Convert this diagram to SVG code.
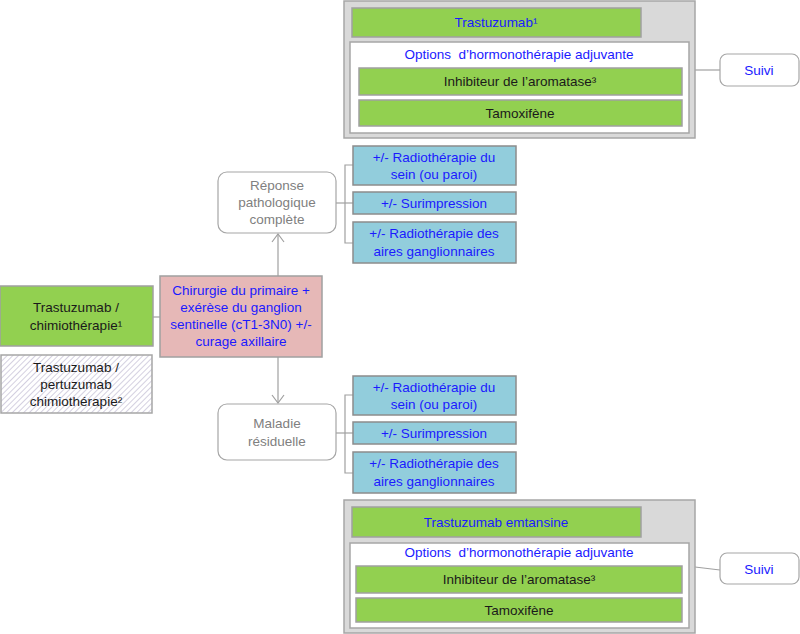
<svg xmlns="http://www.w3.org/2000/svg" width="800" height="634" viewBox="0 0 800 634">
<style>
text{font-family:"Liberation Sans",Arial,sans-serif;font-size:13.5px;text-anchor:middle;white-space:pre}
.b{fill:#1a1aff}
.k{fill:#1a1a1a}
.g{fill:#808080}
.grn{fill:#92D050;stroke:#a0a0a0;stroke-width:1.5}
.blu{fill:#92CDDC;stroke:#8c8c8c;stroke-width:1.5}
.gry{fill:#D9D9D9;stroke:#a6a6a6;stroke-width:1.5}
.wht{fill:#fff;stroke:#a6a6a6;stroke-width:1.5}
.rnd{fill:#fff;stroke:#a6a6a6;stroke-width:1.2}
.ln{fill:none;stroke:#a0a0a0;stroke-width:1.2}
</style>
<defs>
<pattern id="hatch" width="4" height="4" patternUnits="userSpaceOnUse" patternTransform="rotate(45)">
<rect width="4" height="4" fill="#fff"/>
<line x1="0" y1="0" x2="0" y2="4" stroke="#b8b0cc" stroke-width="1.2"/>
</pattern>
</defs>
<g id="connectors">
<line class="ln" x1="153" y1="317" x2="160" y2="317"/>
<line class="ln" x1="278" y1="276" x2="278" y2="234"/>
<polyline class="ln" points="272,242 278,234 284,242"/>
<line class="ln" x1="278" y1="357" x2="278" y2="403"/>
<polyline class="ln" points="272,395 278,403 284,395"/>
<polyline class="ln" points="353,165 345,165 345,243 353,243"/>
<line class="ln" x1="336" y1="203" x2="353" y2="203"/>
<polyline class="ln" points="353,395 345,395 345,473 353,473"/>
<line class="ln" x1="336" y1="433" x2="353" y2="433"/>
<line class="ln" x1="695" y1="70" x2="720" y2="70"/>
<line class="ln" x1="695" y1="567" x2="720" y2="570"/>
</g>
<g id="top-group">
<rect class="gry" x="344" y="1" width="351" height="137"/>
<rect class="grn" x="352" y="8" width="289" height="29"/>
<text class="b" x="496" y="27">Trastuzumab¹</text>
<rect class="wht" x="350" y="42" width="339" height="91"/>
<text class="b" x="519" y="59">Options  d’hormonothérapie adjuvante</text>
<rect class="grn" x="359" y="68" width="323" height="27"/>
<text class="k" x="520" y="86">Inhibiteur de l’aromatase³</text>
<rect class="grn" x="359" y="100" width="323" height="26"/>
<text class="k" x="520" y="118">Tamoxifène</text>
</g>
<g id="suivi-top">
<rect class="rnd" x="720" y="54" width="79" height="32" rx="7"/>
<text class="b" x="759" y="75">Suivi</text>
</g>
<g id="trastu-chimio">
<rect class="grn" x="0" y="286" width="153" height="60"/>
<text class="k" x="76" y="312">Trastuzumab /</text>
<text class="k" x="76" y="330">chimiothérapie¹</text>
</g>
<g id="trastu-pertu">
<rect x="1" y="355" width="151" height="58" fill="url(#hatch)" stroke="#a6a6a6" stroke-width="1.5"/>
<text class="k" x="76" y="372">Trastuzumab /</text>
<text class="k" x="76" y="389">pertuzumab</text>
<text class="k" x="76" y="406">chimiothérapie²</text>
</g>
<g id="chirurgie">
<rect x="160" y="276" width="162" height="81" fill="#E6B8B7" stroke="#a0a0a0" stroke-width="1.5"/>
<text class="b" x="241" y="295">Chirurgie du primaire +</text>
<text class="b" x="241" y="312">exérèse du ganglion</text>
<text class="b" x="241" y="329">sentinelle (cT1-3N0) +/-</text>
<text class="b" x="241" y="346">curage axillaire</text>
</g>
<g id="reponse">
<rect class="rnd" x="218" y="172" width="118" height="61" rx="9"/>
<text class="g" x="277" y="190">Réponse</text>
<text class="g" x="277" y="207">pathologique</text>
<text class="g" x="277" y="224">complète</text>
</g>
<g id="rt-top">
<rect class="blu" x="353" y="146" width="163" height="39"/>
<text class="b" x="434" y="162">+/- Radiothérapie du</text>
<text class="b" x="434" y="179">sein (ou paroi)</text>
<rect class="blu" x="353" y="192" width="163" height="22"/>
<text class="b" x="434" y="208">+/- Surimpression</text>
<rect class="blu" x="353" y="222" width="163" height="41"/>
<text class="b" x="434" y="238">+/- Radiothérapie des</text>
<text class="b" x="434" y="256">aires ganglionnaires</text>
</g>
<g id="maladie">
<rect class="rnd" x="218" y="404" width="118" height="56" rx="9"/>
<text class="g" x="277" y="428">Maladie</text>
<text class="g" x="277" y="446">résiduelle</text>
</g>
<g id="rt-bottom">
<rect class="blu" x="353" y="376" width="163" height="39"/>
<text class="b" x="434" y="392">+/- Radiothérapie du</text>
<text class="b" x="434" y="409">sein (ou paroi)</text>
<rect class="blu" x="353" y="422" width="163" height="22"/>
<text class="b" x="434" y="438">+/- Surimpression</text>
<rect class="blu" x="353" y="452" width="163" height="41"/>
<text class="b" x="434" y="468">+/- Radiothérapie des</text>
<text class="b" x="434" y="486">aires ganglionnaires</text>
</g>
<g id="bottom-group">
<rect class="gry" x="344" y="500" width="351" height="133"/>
<rect class="grn" x="352" y="507" width="289" height="30"/>
<text class="b" x="496" y="527">Trastuzumab emtansine</text>
<rect class="wht" x="350" y="543" width="339" height="85"/>
<text class="b" x="519" y="557">Options  d’hormonothérapie adjuvante</text>
<rect class="grn" x="356" y="566" width="326" height="27"/>
<text class="k" x="519" y="584">Inhibiteur de l’aromatase³</text>
<rect class="grn" x="356" y="598" width="326" height="24"/>
<text class="k" x="519" y="615">Tamoxifène</text>
</g>
<g id="suivi-bottom">
<rect class="rnd" x="720" y="553" width="79" height="31" rx="7"/>
<text class="b" x="759" y="574">Suivi</text>
</g>
</svg>
